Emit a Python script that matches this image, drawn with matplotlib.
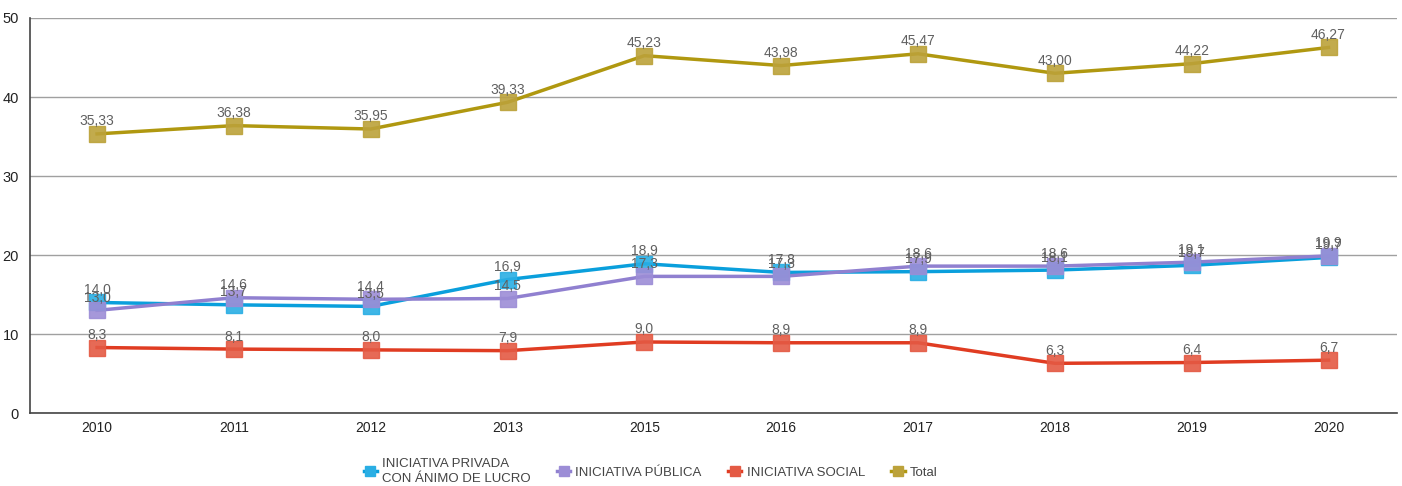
import matplotlib.pyplot as plt
from matplotlib.lines import Line2D

# datos
anios = ['2010', '2011', '2012', '2013', '2015', '2016', '2017', '2018', '2019', '2020']
privada = [14.0, 13.7, 13.5, 16.9, 18.9, 17.8, 17.9, 18.1, 18.7, 19.7]
publica = [13.0, 14.6, 14.4, 14.5, 17.3, 17.3, 18.6, 18.6, 19.1, 19.9]
social = [8.3, 8.1, 8.0, 7.9, 9.0, 8.9, 8.9, 6.3, 6.4, 6.7]
total = [35.33, 36.38, 35.95, 39.33, 45.23, 43.98, 45.47, 43.00, 44.22, 46.27]

series = [
    ('INICIATIVA PRIVADA\nCON ÁNIMO DE LUCRO', privada, '#0a9fdc', '#2aaee4', 1),
    ('INICIATIVA PÚBLICA', publica, '#9080d0', '#9c8dd6', 1),
    ('INICIATIVA SOCIAL', social, '#e03c22', '#e45a44', 1),
    ('Total', total, '#b09810', '#bca23a', 2),
]

plt.rcParams['font.family'] = ['Liberation Sans', 'DejaVu Sans']

fig = plt.figure(figsize=(14.02, 4.86), dpi=100)
ax = fig.add_axes([0.0214, 0.150, 0.975, 0.813])
x = list(range(len(anios)))

for nombre, vals, color, mcolor, dec in series:
    ax.plot(x, vals, color=color, lw=2.5, zorder=3)
    ax.plot(x, vals, ls='none', marker='s', markersize=11, color=mcolor, alpha=0.9, zorder=4)
    for xi, v in zip(x, vals):
        txt = ('{:.%df}' % dec).format(v).replace('.', ',')
        ax.annotate(txt, (xi, v), xytext=(0, 4), textcoords='offset points',
                    ha='center', va='bottom', fontsize=10, color='#606060', zorder=5)

ax.set_xlim(-0.49, 9.5)
ax.set_ylim(0, 50)
ax.set_yticks([0, 10, 20, 30, 40, 50])
ax.set_xticks(x)
ax.set_xticklabels(anios)
ax.tick_params(axis='both', length=0, labelsize=10, colors='#222222', pad=6)
ax.tick_params(axis='y', pad=8, labelsize=10.5)
ax.yaxis.grid(True, color='#a0a0a0', lw=1)
ax.set_axisbelow(True)
for s in ['top', 'right']:
    ax.spines[s].set_visible(False)
for s in ['left', 'bottom']:
    ax.spines[s].set_color('#444444')
    ax.spines[s].set_linewidth(1.2)

handles = [Line2D([], [], color=c, lw=2.5, marker='s', markersize=7, markerfacecolor=m, markeredgecolor=m)
           for _, _, c, m, _ in series]
labels = [s[0] for s in series]
leg = fig.legend(handles, labels, loc='center', bbox_to_anchor=(0.464, 0.03), ncol=4, frameon=False,
                 fontsize=9.5, handlelength=1.0, handletextpad=0.4, columnspacing=2.0,
                 labelcolor='#444444')
for t in leg.get_texts():
    t.set_linespacing(1.35)

fig.savefig('out.png', dpi=100)
